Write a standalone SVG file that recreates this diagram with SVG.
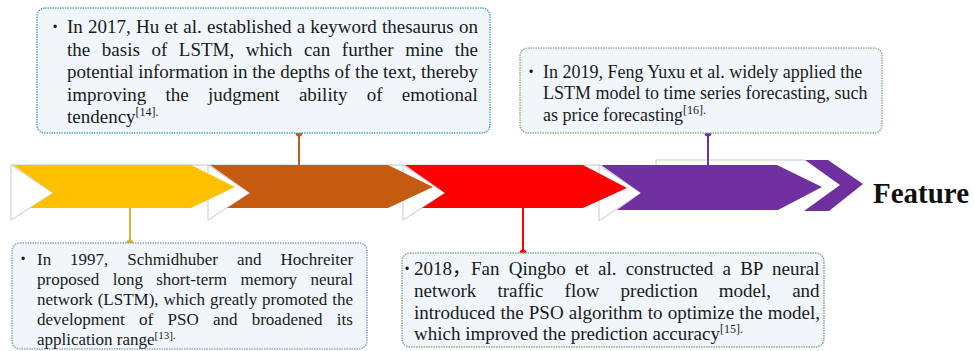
<svg xmlns="http://www.w3.org/2000/svg" width="974" height="351" viewBox="0 0 974 351">
  <style>
    .tri { fill: #ffffff; stroke: #c8c8c8; stroke-width: 1; }
    .box { fill: #f0f6fa; stroke-width: 1.5; stroke-dasharray: 1.5 1; }
    .txt { font-family: "Liberation Serif", "Noto Sans CJK SC", serif; fill: #1a1a1a; }
    .b19 { font-size: 19px; }
    .b18 { font-size: 18px; }
    .b17 { font-size: 17px; }
    .bul { font-family: "Liberation Sans", sans-serif; font-size: 12px; fill: #1a1a1a; }
    .conn { stroke-width: 2; fill: none; }
  </style>

  <!-- timeline chevrons -->
  <g id="timeline">
    <polygon class="tri" points="11,165 53,193 11,220"/>
    <polygon class="tri" points="208,165 250,193 208,220"/>
    <polygon class="tri" points="403,165 445,193 403,220"/>
    <polygon class="tri" points="599,165 641,193 599,221"/>
    <polyline points="656,165 656,160 805,160" fill="none" stroke="#c8c8c8" stroke-width="1"/>
    <line x1="11" y1="165" x2="600" y2="165" stroke="#c8c8c8" stroke-width="1"/>
    <polygon id="stage-1997" fill="#ffc000" points="13,165 191,165 235,187 191,208 30,208 53,193"/>
    <polygon id="stage-2017" fill="#c55a11" points="210,165 388,165 433,187 388,208 227,208 250,193"/>
    <polygon id="stage-2018" fill="#ff0000" points="405,165 583,165 627,188 583,208 422,208 445,193"/>
    <polygon id="stage-2019" fill="#7030a0" points="601,165 777,165 822,187 778,210 617,210 641,193"/>
    <polygon id="stage-next" fill="#7030a0" points="805,160 828,160 863,184 829,211 804,211 840,185"/>
  </g>

  <g id="feature-label">
    <text x="873" y="203" font-family="Liberation Serif, serif" font-weight="bold" font-size="29" fill="#111">Feature</text>
  </g>

  <!-- connectors from the timeline to the notes -->
  <g id="connectors">
    <line class="conn" stroke="#e0b030" x1="130" y1="208" x2="130" y2="243"/>
    <circle cx="130" cy="243" r="3.5" fill="#e0b030"/>
    <line class="conn" stroke="#c55a11" x1="299" y1="133" x2="299" y2="165"/>
    <circle cx="299" cy="133" r="3.5" fill="#c55a11"/>
    <line class="conn" stroke="#ff0000" x1="523" y1="208" x2="523" y2="253"/>
    <circle cx="523" cy="253" r="3.5" fill="#ff0000"/>
    <line class="conn" stroke="#7030a0" x1="708" y1="133" x2="708" y2="165"/>
    <circle cx="708" cy="133" r="3.5" fill="#7030a0"/>
  </g>

  <!-- note 2017 -->
  <g id="note-2017">
    <rect class="box" x="37" y="8" width="453" height="125" rx="8" stroke="#5aaab8"/>
    <text class="bul" x="53" y="31">•</text>
    <text class="txt b19" x="67" y="33" word-spacing="0.46">In 2017, Hu et al. established a keyword thesaurus on</text>
    <text class="txt b19" x="67" y="55.5" word-spacing="6.85">the basis of LSTM, which can further mine the</text>
    <text class="txt b19" x="67" y="78">potential information in the depths of the text, thereby</text>
    <text class="txt b19" x="67" y="100.5" word-spacing="14.5">improving the judgment ability of emotional</text>
    <text class="txt b19" x="67" y="123">tendency<tspan font-size="12" dy="-7">[14].</tspan></text>
  </g>

  <!-- note 2019 -->
  <g id="note-2019">
    <rect class="box" x="520" y="48" width="362" height="85" rx="8" stroke="#a0b08a"/>
    <text class="bul" x="529" y="76">•</text>
    <text class="txt b18" x="543" y="77.5">In 2019, Feng Yuxu et al. widely applied the</text>
    <text class="txt b18" x="543" y="99">LSTM model to time series forecasting, such</text>
    <text class="txt b18" x="543" y="120.5">as price forecasting<tspan font-size="12" dy="-7">[16].</tspan></text>
  </g>

  <!-- note 1997 -->
  <g id="note-1997">
    <rect class="box" x="12" y="243" width="355" height="106" rx="8" stroke="#8fa9c0"/>
    <text class="bul" x="21" y="263">•</text>
    <text class="txt b17" x="37" y="265" word-spacing="14.7">In 1997, Schmidhuber and Hochreiter</text>
    <text class="txt b17" x="37" y="285" word-spacing="9.1">proposed long short-term memory neural</text>
    <text class="txt b17" x="37" y="305" word-spacing="0.69">network (LSTM), which greatly promoted the</text>
    <text class="txt b17" x="37" y="325" word-spacing="10">development of PSO and broadened its</text>
    <text class="txt b17" x="37" y="345">application range<tspan font-size="11" dy="-6">[13].</tspan></text>
  </g>

  <!-- note 2018 -->
  <g id="note-2018">
    <rect class="box" x="402" y="253" width="422" height="94" rx="8" stroke="#8fa58f"/>
    <text class="bul" x="405" y="273">•</text>
    <text class="txt b19" x="414" y="275" word-spacing="4.5">2018，Fan Qingbo et al. constructed a BP neural</text>
    <text class="txt b19" x="414" y="297" word-spacing="16.4">network traffic flow prediction model, and</text>
    <text class="txt b19" x="414" y="319" word-spacing="0.4">introduced the PSO algorithm to optimize the model,</text>
    <text class="txt b19" x="414" y="340">which improved the prediction accuracy<tspan font-size="12" dy="-7">[15].</tspan></text>
  </g>
</svg>
